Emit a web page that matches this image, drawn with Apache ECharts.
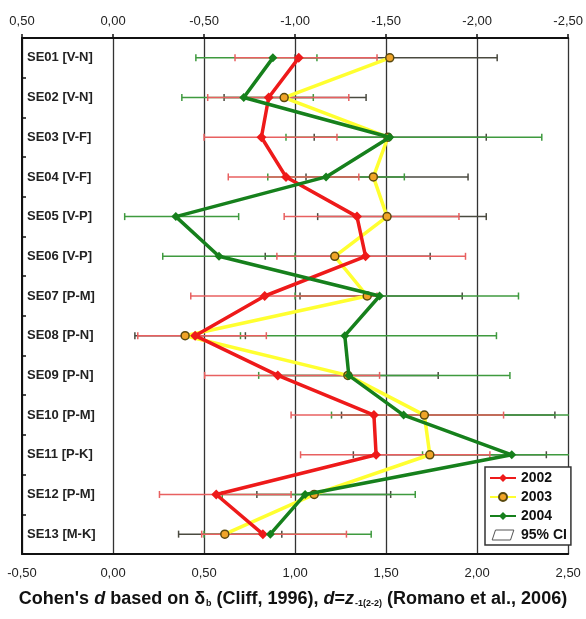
<!DOCTYPE html>
<html>
<head>
<meta charset="utf-8">
<script src="https://cdn.jsdelivr.net/npm/echarts@6/dist/echarts.min.js"></script>
<style>
  html, body { margin: 0; padding: 0; background: #fff; }
  #container { width: 586px; height: 619px; }
</style>
</head>
<body>
<div id="container"></div>
<script>
var cats = ['SE01 [V-N]', 'SE02 [V-N]', 'SE03 [V-F]', 'SE04 [V-F]', 'SE05 [V-P]', 'SE06 [V-P]',
  'SE07 [P-M]', 'SE08 [P-N]', 'SE09 [P-N]', 'SE10 [P-M]', 'SE11 [P-K]', 'SE12 [P-M]', 'SE13 [M-K]'];

// effect sizes
var d2002 = [1.02, 0.855, 0.815, 0.95, 1.34, 1.387, 0.833, 0.451, 0.905, 1.433, 1.445, 0.567, 0.823];
var d2003 = [1.52, 0.94, 1.51, 1.43, 1.505, 1.218, 1.396, 0.396, 1.29, 1.71, 1.74, 1.105, 0.614];
var d2004 = [0.878, 0.718, 1.52, 1.17, 0.345, 0.582, 1.464, 1.273, 1.295, 1.596, 2.19, 1.055, 0.864];

// 95% CI bounds
var lo2002 = [0.67, 0.52, 0.50, 0.633, 0.94, 0.90, 0.427, 0.136, 0.503, 0.978, 1.03, 0.255, 0.487];
var hi2002 = [1.45, 1.295, 1.23, 1.35, 1.90, 1.936, 1.45, 0.842, 1.464, 2.145, 2.07, 0.978, 1.282];
var lo2003 = [1.0, 0.61, 1.105, 1.06, 1.124, 0.836, 1.027, 0.12, 0.9, 1.255, 1.32, 0.79, 0.36];
var hi2003 = [2.11, 1.39, 2.05, 1.95, 2.05, 1.742, 1.918, 0.727, 1.786, 2.427, 2.38, 1.525, 0.927];
var lo2004 = [0.455, 0.378, 0.95, 0.85, 0.064, 0.273, 1.0, 0.7, 0.8, 1.2, 1.7, 0.6, 0.5];
var hi2004 = [1.12, 1.1, 2.355, 1.6, 0.69, 1.0, 2.227, 2.106, 2.18, 2.55, 2.55, 1.66, 1.418];

var xTicks = { min: -0.5, max: 2.5, interval: 0.5 };

function fmt(v) {
    return v.toFixed(2).replace('.', ',');
}

function pts(vals) {
    return vals.map(function (v, i) { return [v, cats[i]]; });
}

function ciData(lo, hi) {
    return lo.map(function (l, i) { return [l, hi[i], i]; });
}

function ciRender(color, width) {
    return function (params, api) {
        var y = api.value(2);
        var a = api.coord([api.value(0), y]);
        var b = api.coord([api.value(1), y]);
        var h = 3.5;
        var st = { stroke: color, lineWidth: width };
        return {
            type: 'group',
            children: [
                { type: 'line', shape: { x1: a[0], y1: a[1], x2: b[0], y2: b[1] }, style: st },
                { type: 'line', shape: { x1: a[0], y1: a[1] - h, x2: a[0], y2: a[1] + h }, style: st },
                { type: 'line', shape: { x1: b[0], y1: b[1] - h, x2: b[0], y2: b[1] + h }, style: st }
            ]
        };
    };
}

window.onload = function () {
    var myChart = echarts.init(document.getElementById('container'));

    var option = {
        animation: false,
        textStyle: { fontFamily: 'Liberation Sans, Arial, sans-serif' },
        grid: { left: 22, right: 15, top: 38, bottom: 65, containLabel: false },
        title: {
            left: 'center',
            bottom: 6,
            text: "Cohen's {i|d} based on δ{sub|b} (Cliff, 1996), {i|d}={i|z}{sub|-1(2-2)} (Romano et al., 2006)",
            textStyle: {
                fontSize: 18, fontWeight: 'bold', color: '#111',
                rich: {
                    i: { fontSize: 18, fontWeight: 'bold', fontStyle: 'italic', color: '#111' },
                    sub: { fontSize: 9, fontWeight: 'bold', color: '#111', padding: [9, 0, 0, 1] }
                }
            }
        },
        legend: {
            orient: 'vertical',
            left: 485,
            top: 467,
            padding: [4, 4, 3, 4],
            itemGap: 5,
            itemWidth: 26,
            itemHeight: 10,
            backgroundColor: '#fff',
            borderColor: '#333',
            borderWidth: 1.5,
            textStyle: { fontSize: 14, fontWeight: 'bold', color: '#111' },
            data: ['2002', '2003', '2004', {
                name: '95% CI',
                icon: 'path://M4,12 L8,0 L30,0 L26,12 Z',
                itemStyle: { color: '#fff', borderColor: '#555', borderWidth: 1 }
            }]
        },
        xAxis: [{
            type: 'value',
            position: 'bottom',
            min: xTicks.min, max: xTicks.max, interval: xTicks.interval,
            axisLine: { show: true, onZero: false, lineStyle: { color: '#111', width: 2 } },
            axisTick: { show: false },
            axisLabel: { formatter: fmt, margin: 13, fontSize: 13, color: '#222' },
            splitLine: { show: true, lineStyle: { color: '#333', width: 1.3 } }
        }, {
            type: 'value',
            position: 'top',
            min: xTicks.min, max: xTicks.max, interval: xTicks.interval,
            axisLine: { show: true, onZero: false, lineStyle: { color: '#111', width: 2 } },
            axisTick: { show: true, length: 4, lineStyle: { color: '#111', width: 1.5 } },
            axisLabel: { formatter: function (v) { return fmt(-v); }, margin: 10, fontSize: 13, color: '#222' },
            splitLine: { show: false }
        }],
        yAxis: {
            type: 'category',
            data: cats,
            inverse: true,
            axisLine: { show: true, onZero: false, lineStyle: { color: '#111', width: 2 } },
            axisTick: { show: true, inside: true, length: 4, lineStyle: { color: '#111', width: 1.5 } },
            axisLabel: { inside: true, margin: 5, fontSize: 13, fontWeight: 'bold', color: '#222' },
            splitLine: { show: false }
        },
        series: [{
            name: '95% CI',
            type: 'custom',
            renderItem: ciRender('#4a4a40', 1.5),
            data: ciData(lo2003, hi2003),
            encode: { x: [0, 1], y: 2 },
            clip: true,
            z: 2
        }, {
            name: '95% CI',
            type: 'custom',
            renderItem: ciRender('#3f9a3f', 1.5),
            data: ciData(lo2004, hi2004),
            encode: { x: [0, 1], y: 2 },
            clip: true,
            z: 3
        }, {
            name: '95% CI',
            type: 'custom',
            renderItem: ciRender('#e86060', 1.5),
            data: ciData(lo2002, hi2002),
            encode: { x: [0, 1], y: 2 },
            clip: true,
            z: 4
        }, {
            name: '2003',
            type: 'line',
            data: pts(d2003),
            symbol: 'circle',
            symbolSize: 8,
            lineStyle: { color: '#ffff30', width: 3.5 },
            itemStyle: { color: '#f0a428', borderColor: '#5a4a10', borderWidth: 1.5 },
            z: 5
        }, {
            name: '2002',
            type: 'line',
            data: pts(d2002),
            symbol: 'diamond',
            symbolSize: 10,
            lineStyle: { color: '#ee1a1a', width: 3.5 },
            itemStyle: { color: '#ee1a1a' },
            z: 6
        }, {
            name: '2004',
            type: 'line',
            data: pts(d2004),
            symbol: 'diamond',
            symbolSize: 9,
            lineStyle: { color: '#16801c', width: 3.5 },
            itemStyle: { color: '#16801c' },
            z: 7
        }]
    };

    myChart.setOption(option, true);
};
</script>
</body>
</html>
